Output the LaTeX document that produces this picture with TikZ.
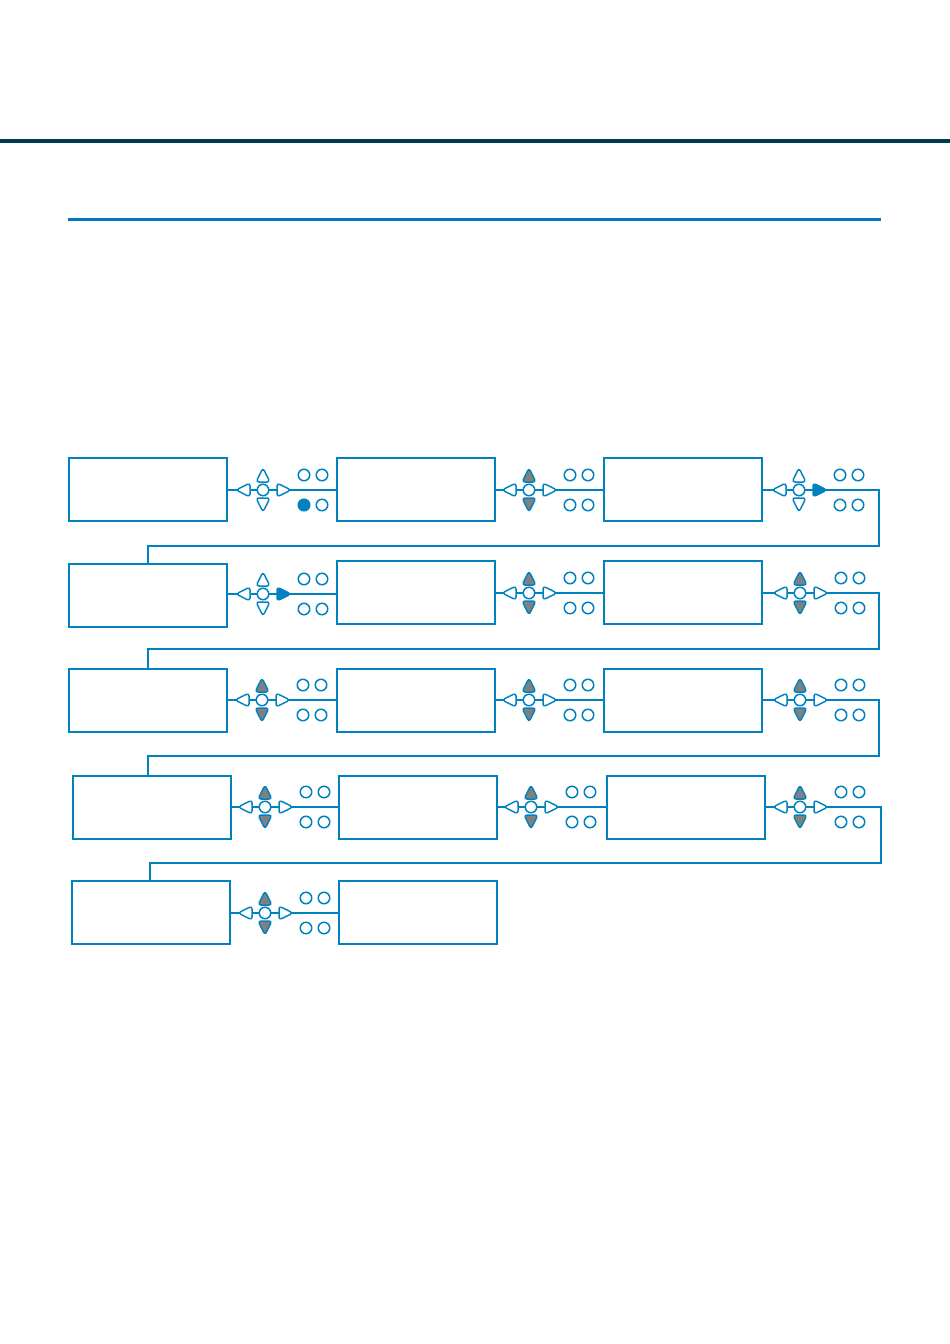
\documentclass[tikz,border=0pt]{standalone}
\usepackage{tikz}
\definecolor{boxblue}{RGB}{0,130,192}
\definecolor{padgray}{RGB}{128,128,128}
\definecolor{darkband}{RGB}{0,58,77}
\definecolor{topblue}{RGB}{0,119,190}
\tikzset{
  panel/.style={draw=boxblue, line width=2pt, fill=white, rectangle, minimum width=158pt, minimum height=63pt, inner sep=0pt},
  padc/.style={draw=boxblue, line width=1.5pt, fill=white, circle, minimum size=11.5pt, inner sep=0pt},
  padt/.style={draw=boxblue, line width=1.5pt, fill=white, rounded corners=3pt, line join=round},
  link/.style={draw=boxblue, line width=1.8pt},
  wrap/.style={draw=boxblue, line width=1.3pt},
}
% name, x, y, up/down fill, right fill, bottom-left small circle fill
\newcommand\ctrlpad[6]{%
  \begin{scope}[shift={(#2,#3)}]
    \node[padc] (#1) at (0,0) {};
    \draw[padt, fill=#5] (14,-7) -- (28,0) -- (14,7) -- cycle;
    \draw[padt] (-13,-7) -- (-27,0) -- (-13,7) -- cycle;
    \draw[padt, fill=#4] (-7,-8) -- (0,-22) -- (7,-8) -- cycle;
    \draw[padt, fill=#4] (-7,8) -- (0,22) -- (7,8) -- cycle;
    \node[padc] (#1a) at (41,-15) {};
    \node[padc] (#1b) at (59,-15) {};
    \node[padc, fill=#6] (#1c) at (41,15) {};
    \node[padc] (#1d) at (59,15) {};
  \end{scope}}
\begin{document}
\begin{tikzpicture}[x=1pt, y=-1pt]
\useasboundingbox (0,0) rectangle (950,1344);
% header rules
\fill[darkband] (0,138.5) rectangle (950,142.5);
\fill[topblue] (68,217.5) rectangle (881,220.5);
% panels
\node[panel] (b11) at (147.5,489.5) {};
\node[panel] (b12) at (415.5,489.5) {};
\node[panel] (b13) at (683,489.5) {};
\node[panel] (b21) at (148,595.5) {};
\node[panel] (b22) at (415.5,592.5) {};
\node[panel] (b23) at (683,592.5) {};
\node[panel] (b31) at (148,700.5) {};
\node[panel] (b32) at (415.5,700.5) {};
\node[panel] (b33) at (683,700.5) {};
\node[panel] (b41) at (151.5,807.5) {};
\node[panel] (b42) at (418,807.5) {};
\node[panel] (b43) at (685.5,807.5) {};
\node[panel] (b51) at (150.5,912.5) {};
\node[panel] (b52) at (418,912.5) {};
% controller anchor coordinates
\coordinate (p11) at (263,490);
\coordinate (p12) at (529,490);
\coordinate (p13) at (799,490);
\coordinate (p21) at (263,594);
\coordinate (p22) at (529,593);
\coordinate (p23) at (800,593);
\coordinate (p31) at (262,700);
\coordinate (p32) at (529,700);
\coordinate (p33) at (800,700);
\coordinate (p41) at (265,807);
\coordinate (p42) at (531,807);
\coordinate (p43) at (800,807);
\coordinate (p51) at (265,913);
% wrap turn points
\coordinate (t1) at (879,546); \coordinate (d1) at (148,546);
\coordinate (t2) at (879,649); \coordinate (d2) at (148,649);
\coordinate (t3) at (879,756); \coordinate (d3) at (148,756);
\coordinate (t4) at (881,863); \coordinate (d4) at (150,863);
% links between panels
\draw[link] (p11 -| b11.east) -- (p11 -| b12.west);
\draw[link] (p12 -| b12.east) -- (p12 -| b13.west);
\draw[link] (p13 -| b13.east) -- (p13);
\draw[link] (p21 -| b21.east) -- (p21 -| b22.west);
\draw[link] (p22 -| b22.east) -- (p22 -| b23.west);
\draw[link] (p23 -| b23.east) -- (p23);
\draw[link] (p31 -| b31.east) -- (p31 -| b32.west);
\draw[link] (p32 -| b32.east) -- (p32 -| b33.west);
\draw[link] (p33 -| b33.east) -- (p33);
\draw[link] (p41 -| b41.east) -- (p41 -| b42.west);
\draw[link] (p42 -| b42.east) -- (p42 -| b43.west);
\draw[link] (p43 -| b43.east) -- (p43);
\draw[link] (p51 -| b51.east) -- (p51 -| b52.west);
% wraps between rows
\draw[wrap] (p13) -| (t1) -- (d1) -- (d1 |- b21.north);
\draw[wrap] (p23) -| (t2) -- (d2) -- (d2 |- b31.north);
\draw[wrap] (p33) -| (t3) -- (d3) -- (d3 |- b41.north);
\draw[wrap] (p43) -| (t4) -- (d4) -- (d4 |- b51.north);
% controllers
\ctrlpad{c11}{263}{490}{white}{white}{boxblue}
\ctrlpad{c12}{529}{490}{padgray}{white}{white}
\ctrlpad{c13}{799}{490}{white}{boxblue}{white}
\ctrlpad{c21}{263}{594}{white}{boxblue}{white}
\ctrlpad{c22}{529}{593}{padgray}{white}{white}
\ctrlpad{c23}{800}{593}{padgray}{white}{white}
\ctrlpad{c31}{262}{700}{padgray}{white}{white}
\ctrlpad{c32}{529}{700}{padgray}{white}{white}
\ctrlpad{c33}{800}{700}{padgray}{white}{white}
\ctrlpad{c41}{265}{807}{padgray}{white}{white}
\ctrlpad{c42}{531}{807}{padgray}{white}{white}
\ctrlpad{c43}{800}{807}{padgray}{white}{white}
\ctrlpad{c51}{265}{913}{padgray}{white}{white}
\end{tikzpicture}
\end{document}
